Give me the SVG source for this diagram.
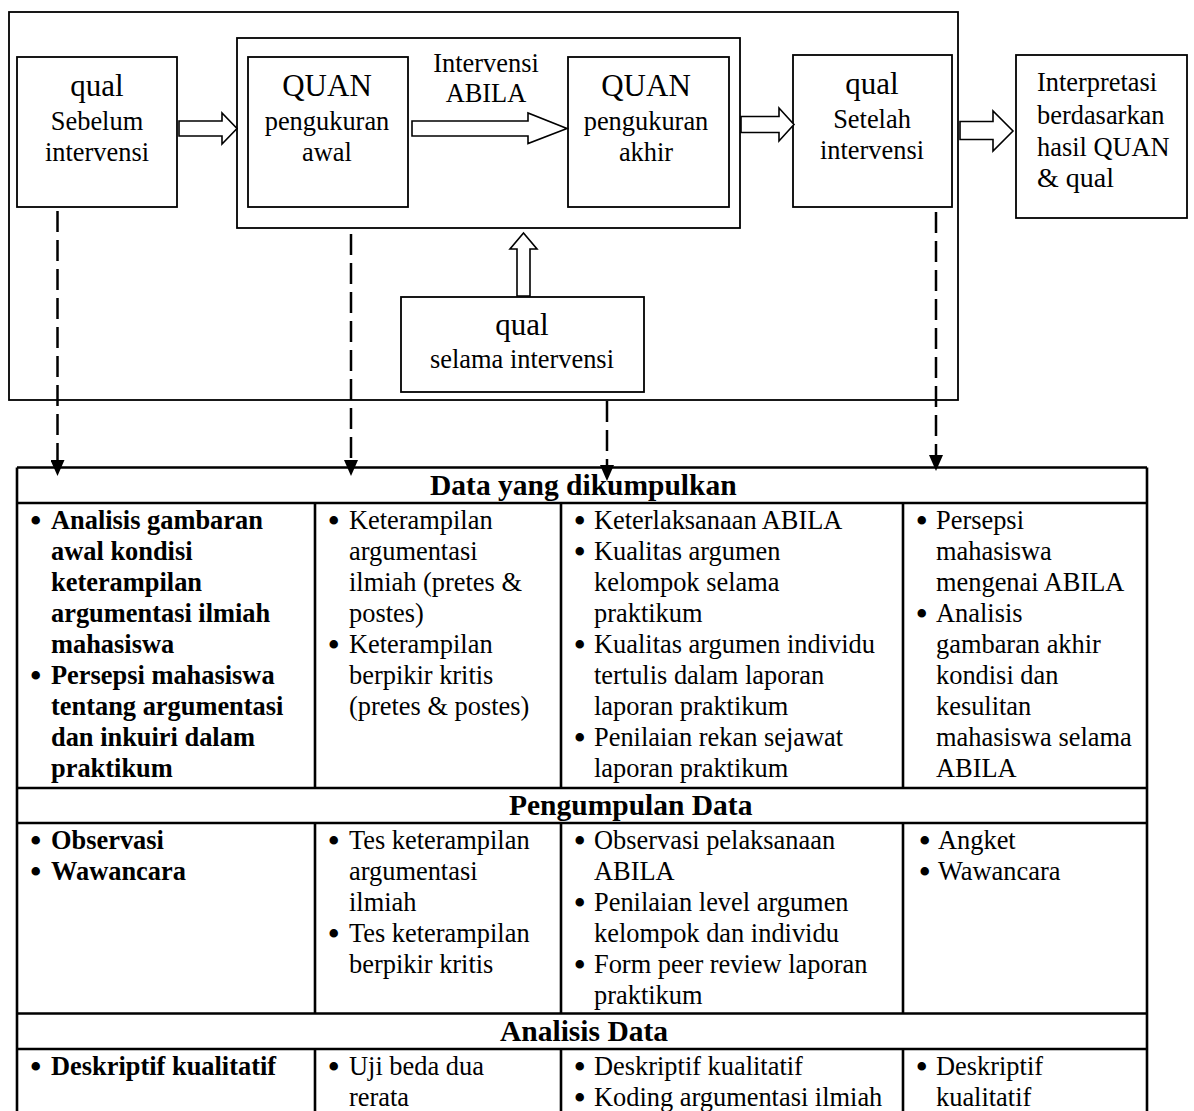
<svg xmlns="http://www.w3.org/2000/svg" width="1194" height="1111" viewBox="0 0 1194 1111">
<defs>
<style>
.box{fill:#fff;stroke:#000;stroke-width:1.8}
.frame{fill:none;stroke:#000;stroke-width:1.8}
.blk{fill:#fff;stroke:#000;stroke-width:1.6;stroke-linejoin:miter}
.dash{fill:none;stroke:#000;stroke-width:2.5;stroke-dasharray:21 8}
.tl{stroke:#000;stroke-width:2.6;fill:none}
text{font-family:"Liberation Serif","Times New Roman",serif;fill:#000}
.t{font-size:26.4px}
.big{font-size:31px}
.c{text-anchor:middle}
.b{font-weight:bold}
.h{font-size:29.5px;font-weight:bold}
.bu{font-size:27px;stroke:#000;stroke-width:2;stroke-linejoin:round}
</style>
<marker id="ah" viewBox="0 0 16 14" markerWidth="16" markerHeight="14" refX="0" refY="7" orient="auto" markerUnits="userSpaceOnUse">
<path d="M0,0 L16,7 L0,14 Z" fill="#000"/>
</marker>
</defs>
<rect width="1194" height="1111" fill="#fff"/>

<g id="outer-frame"><rect class="frame" x="9" y="12" width="949" height="388"/></g>
<g id="quan-group"><rect class="frame" x="237" y="38" width="503" height="190"/></g>

<g id="sebelum">
<rect class="box" x="17" y="57" width="160" height="150"/>
<text class="big c" x="97" y="96">qual</text>
<text class="t c" x="97" y="130">Sebelum</text>
<text class="t c" x="97" y="161">intervensi</text>
</g>

<g id="quan-awal">
<rect class="box" x="248" y="57" width="160" height="150"/>
<text class="big c" x="327" y="96">QUAN</text>
<text class="t c" x="327" y="130">pengukuran</text>
<text class="t c" x="327" y="161">awal</text>
</g>

<g id="intervensi-label">
<text class="t c" x="486" y="72">Intervensi</text>
<text class="t c" x="486" y="102">ABILA</text>
</g>

<g id="quan-akhir">
<rect class="box" x="568" y="57" width="161" height="150"/>
<text class="big c" x="646" y="96">QUAN</text>
<text class="t c" x="646" y="130">pengukuran</text>
<text class="t c" x="646" y="161">akhir</text>
</g>

<g id="setelah">
<rect class="box" x="793" y="55" width="159" height="152"/>
<text class="big c" x="872" y="94">qual</text>
<text class="t c" x="872" y="128">Setelah</text>
<text class="t c" x="872" y="159">intervensi</text>
</g>

<g id="interpretasi">
<rect class="box" x="1016" y="55" width="171" height="163"/>
<text class="t" x="1037" y="91">Interpretasi</text>
<text class="t" x="1037" y="124">berdasarkan</text>
<text class="t" x="1037" y="156">hasil QUAN</text>
<text class="t" x="1037" y="187" style="font-size:28px">&amp; qual</text>
</g>

<g id="selama">
<rect class="box" x="401" y="297" width="243" height="95"/>
<text class="big c" x="522" y="335">qual</text>
<text class="t c" x="522" y="368">selama intervensi</text>
</g>

<g id="connectors">
<polygon class="blk" points="179,121 222,121 222,113 237,128.5 222,144 222,136 179,136"/>
<polygon class="blk" points="412,121 528,121 528,113 567,128.5 528,143.5 528,136 412,136"/>
<polygon class="blk" points="741,116.5 779,116.5 779,108 794,124.5 779,141 779,132.5 741,132.5"/>
<polygon class="blk" points="960,121.5 993,121.5 993,111 1013,131 993,151 993,139.5 960,139.5"/>
<polygon class="blk" points="517,296 517,249 510,249 523.5,233 537,249 530,249 530,296"/>
<line class="dash" x1="57.5" y1="211" x2="57.5" y2="460" marker-end="url(#ah)"/>
<line class="dash" x1="351" y1="234" x2="351" y2="460" marker-end="url(#ah)"/>
<line class="dash" x1="607" y1="401" x2="607" y2="465" marker-end="url(#ah)"/>
<line class="dash" x1="936" y1="212" x2="936" y2="455" marker-end="url(#ah)"/>
</g>

<g id="table">
<path class="tl" d="M17,467.5 H1147 M17,503 H1147 M17,788 H1147 M17,823 H1147 M17,1013.5 H1147 M17,1049 H1147 M17,467.5 V1111 M1147,467.5 V1111 M315,503 V788 M561,503 V788 M903,503 V788 M315,823 V1013.5 M561,823 V1013.5 M903,823 V1013.5 M315,1049 V1111 M561,1049 V1111 M903,1049 V1111"/>
<text class="h" x="430" y="495">Data yang dikumpulkan</text>
<text class="h" x="509" y="815">Pengumpulan Data</text>
<text class="h" x="500" y="1041">Analisis Data</text>

<g class="bu">
<text x="31" y="530">•</text><text x="31" y="685">•</text><text x="31" y="850">•</text><text x="31" y="881">•</text><text x="31" y="1076">•</text>
<text x="329" y="530">•</text><text x="329" y="654">•</text><text x="329" y="850">•</text><text x="329" y="943">•</text><text x="329" y="1076">•</text>
<text x="575" y="530">•</text><text x="575" y="561">•</text><text x="575" y="654">•</text><text x="575" y="747">•</text>
<text x="575" y="850">•</text><text x="575" y="912">•</text><text x="575" y="974">•</text>
<text x="575" y="1076">•</text><text x="575" y="1107">•</text>
<text x="917" y="530">•</text><text x="917" y="623">•</text><text x="920" y="850">•</text><text x="920" y="881">•</text><text x="917" y="1076">•</text>
</g>

<g class="t b">
<text x="51" y="529">Analisis gambaran</text>
<text x="51" y="560">awal kondisi</text>
<text x="51" y="591">keterampilan</text>
<text x="51" y="622">argumentasi ilmiah</text>
<text x="51" y="653">mahasiswa</text>
<text x="51" y="684">Persepsi mahasiswa</text>
<text x="51" y="715">tentang argumentasi</text>
<text x="51" y="746">dan inkuiri dalam</text>
<text x="51" y="777">praktikum</text>
<text x="51" y="849">Observasi</text>
<text x="51" y="880">Wawancara</text>
<text x="51" y="1075">Deskriptif kualitatif</text>
</g>

<g class="t">
<text x="349" y="529">Keterampilan</text>
<text x="349" y="560">argumentasi</text>
<text x="349" y="591">ilmiah (pretes &amp;</text>
<text x="349" y="622">postes)</text>
<text x="349" y="653">Keterampilan</text>
<text x="349" y="684">berpikir kritis</text>
<text x="349" y="715">(pretes &amp; postes)</text>

<text x="594" y="529">Keterlaksanaan ABILA</text>
<text x="594" y="560">Kualitas argumen</text>
<text x="594" y="591">kelompok selama</text>
<text x="594" y="622">praktikum</text>
<text x="594" y="653">Kualitas argumen individu</text>
<text x="594" y="684">tertulis dalam laporan</text>
<text x="594" y="715">laporan praktikum</text>
<text x="594" y="746">Penilaian rekan sejawat</text>
<text x="594" y="777">laporan praktikum</text>

<text x="936" y="529">Persepsi</text>
<text x="936" y="560">mahasiswa</text>
<text x="936" y="591">mengenai ABILA</text>
<text x="936" y="622">Analisis</text>
<text x="936" y="653">gambaran akhir</text>
<text x="936" y="684">kondisi dan</text>
<text x="936" y="715">kesulitan</text>
<text x="936" y="746">mahasiswa selama</text>
<text x="936" y="777">ABILA</text>

<text x="349" y="849">Tes keterampilan</text>
<text x="349" y="880">argumentasi</text>
<text x="349" y="911">ilmiah</text>
<text x="349" y="942">Tes keterampilan</text>
<text x="349" y="973">berpikir kritis</text>

<text x="594" y="849">Observasi pelaksanaan</text>
<text x="594" y="880">ABILA</text>
<text x="594" y="911">Penilaian level argumen</text>
<text x="594" y="942">kelompok dan individu</text>
<text x="594" y="973">Form peer review laporan</text>
<text x="594" y="1004">praktikum</text>

<text x="938" y="849">Angket</text>
<text x="938" y="880">Wawancara</text>

<text x="349" y="1075">Uji beda dua</text>
<text x="349" y="1106">rerata</text>
<text x="594" y="1075">Deskriptif kualitatif</text>
<text x="594" y="1106">Koding argumentasi ilmiah</text>
<text x="936" y="1075">Deskriptif</text>
<text x="936" y="1106">kualitatif</text>
</g>
</g>
</svg>
